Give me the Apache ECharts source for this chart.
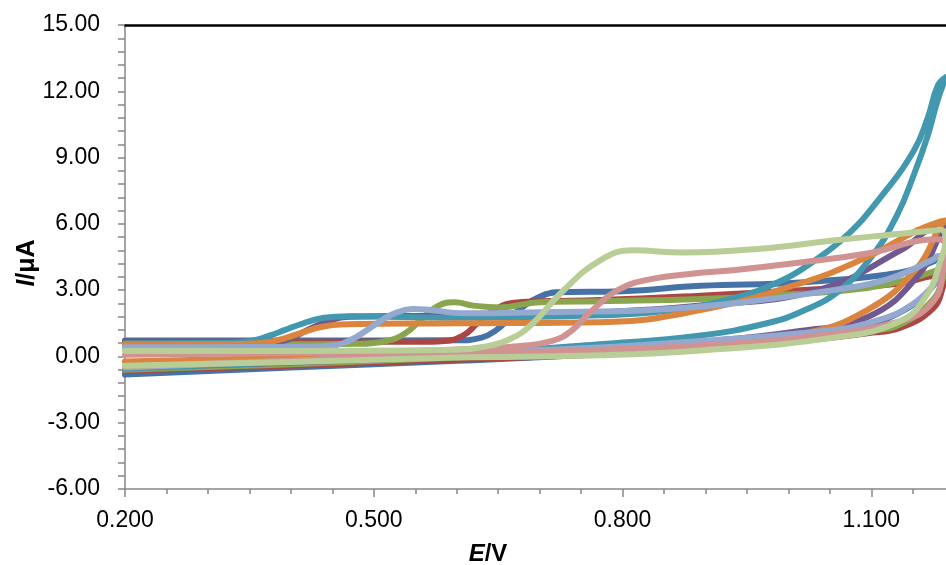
<!DOCTYPE html>
<html><head><meta charset="utf-8">
<script src="https://cdn.jsdelivr.net/npm/echarts@6/dist/echarts.min.js"></script>
<style>html,body{margin:0;padding:0;background:#fff}#c{width:946px;height:565px}</style>
</head><body><div id="c"></div>
<script>
// Tick labels / tick positions
const xLabelValues = [0.2, 0.5, 0.8, 1.1];
const xMinorTickValues = [0.2,0.25,0.3,0.35,0.4,0.45,0.5,0.55,0.6,0.65,0.7,0.75,0.8,0.85,0.9,0.95,1.0,1.05,1.1,1.15];
const yTickLabels = [-6, -3, 0, 3, 6, 9, 12, 15];

// Series (E / V, I / µA) – each is a closed CV loop
const seriesNames = ['S1','S2','S3','S4','S5','S6','S7','S8','S9'];
const blue = [[0.2,-0.82],[0.4,-0.5],[0.6,-0.2],[0.773,0.1],[0.894,0.4],[1.014,0.85],[1.095,1.45],[1.135,2.0],[1.17,3.0],[1.186,3.9],[1.19,4.4],[1.182,4.45],[1.175,4.3],[1.135,3.8],[1.014,3.35],[0.894,3.2],[0.8,2.95],[0.72,2.9],[0.7,2.7],[0.68,2.25],[0.664,1.75],[0.648,1.2],[0.63,0.85],[0.6,0.73],[0.4,0.72],[0.2,0.72]];
const red = [[0.2,-0.65],[0.4,-0.42],[0.6,-0.15],[0.773,0.1],[0.894,0.35],[1.014,0.7],[1.095,1.05],[1.135,1.3],[1.175,2.2],[1.187,3.2],[1.19,3.6],[1.18,3.65],[1.135,3.3],[1.014,3.0],[0.894,2.75],[0.773,2.55],[0.7,2.5],[0.667,2.42],[0.645,2.1],[0.625,1.5],[0.608,0.95],[0.585,0.7],[0.55,0.66],[0.4,0.66],[0.2,0.66]];
const green = [[0.2,-0.6],[0.4,-0.35],[0.6,-0.05],[0.773,0.2],[0.894,0.45],[1.014,0.8],[1.095,1.15],[1.135,1.45],[1.175,2.6],[1.187,3.6],[1.19,3.95],[1.18,3.9],[1.155,3.6],[1.095,3.1],[0.974,2.75],[0.894,2.6],[0.773,2.5],[0.7,2.45],[0.652,2.22],[0.62,2.3],[0.598,2.45],[0.578,2.3],[0.558,1.7],[0.538,1.05],[0.515,0.7],[0.48,0.57],[0.4,0.55],[0.2,0.55]];
const purple = [[0.2,-0.5],[0.4,-0.28],[0.6,0.0],[0.773,0.3],[0.894,0.65],[1.014,1.15],[1.095,1.77],[1.155,3.6],[1.187,5.85],[1.19,6.0],[1.18,5.95],[1.135,4.8],[1.035,3.0],[0.894,2.3],[0.773,2.0],[0.6,1.85],[0.47,1.8],[0.445,1.6],[0.42,1.2],[0.398,0.78],[0.375,0.6],[0.33,0.55],[0.2,0.55]];
const teal = [[0.2,-0.55],[0.4,-0.25],[0.6,0.1],[0.773,0.55],[0.894,0.95],[0.974,1.5],[1.02,2.1],[1.062,3.0],[1.102,4.6],[1.131,6.4],[1.151,8.2],[1.168,10.0],[1.18,11.6],[1.19,12.65],[1.18,12.25],[1.168,10.8],[1.151,9.3],[1.111,7.2],[1.071,5.5],[1.03,4.3],[0.99,3.4],[0.93,2.6],[0.85,2.05],[0.773,1.86],[0.6,1.75],[0.47,1.82],[0.44,1.75],[0.415,1.5],[0.393,1.2],[0.375,0.95],[0.355,0.72],[0.33,0.62],[0.2,0.6]];
const orange = [[0.2,-0.23],[0.4,-0.05],[0.6,0.15],[0.773,0.35],[0.894,0.6],[1.014,1.0],[1.095,2.1],[1.155,4.0],[1.183,5.9],[1.19,6.15],[1.183,6.1],[1.155,5.7],[1.095,4.5],[1.014,3.3],[0.894,2.1],[0.773,1.55],[0.6,1.5],[0.46,1.45],[0.435,1.32],[0.415,1.1],[0.395,0.85],[0.372,0.64],[0.34,0.56],[0.2,0.55]];
const lightBlue = [[0.2,-0.5],[0.4,-0.2],[0.6,0.15],[0.773,0.4],[0.894,0.7],[1.014,1.05],[1.095,1.5],[1.155,2.5],[1.187,4.0],[1.19,4.5],[1.18,4.55],[1.175,4.4],[1.12,3.5],[1.054,3.0],[0.933,2.4],[0.833,2.1],[0.7,2.0],[0.612,1.95],[0.547,2.15],[0.525,1.95],[0.508,1.6],[0.492,1.2],[0.475,0.8],[0.455,0.52],[0.42,0.44],[0.3,0.42],[0.2,0.42]];
const pink = [[0.2,-0.45],[0.4,-0.2],[0.6,0.1],[0.773,0.3],[0.894,0.5],[1.014,0.85],[1.135,1.6],[1.175,2.5],[1.187,4.0],[1.19,5.0],[1.18,5.3],[1.095,4.66],[1.014,4.25],[0.933,3.9],[0.886,3.75],[0.834,3.5],[0.794,3.0],[0.761,2.0],[0.738,1.15],[0.715,0.7],[0.68,0.48],[0.62,0.35],[0.5,0.2],[0.2,0.08]];
const lightGreen = [[0.2,-0.42],[0.4,-0.25],[0.6,-0.05],[0.773,0.05],[0.894,0.27],[1.054,0.85],[1.135,1.6],[1.168,2.85],[1.183,4.3],[1.19,5.4],[1.183,5.75],[1.175,5.7],[1.135,5.55],[1.054,5.25],[0.974,4.9],[0.873,4.7],[0.813,4.8],[0.773,4.35],[0.725,2.85],[0.692,1.5],[0.665,0.8],[0.635,0.45],[0.6,0.3],[0.4,0.25],[0.2,0.25]];

const seriesData = [blue, red, green, purple, teal, orange, lightBlue, pink, lightGreen];
const seriesColors = ['#4572A7','#AA4643','#89A54E','#71588F','#4198AF','#DB843D','#93A9CF','#D19392','#B9CD96'];

const FONT = 'Liberation Sans';
const AXIS_GRAY = '#868686';
const chart = echarts.init(document.getElementById('c'), null, {renderer: 'canvas'});
chart.setOption({
  animation: false,
  backgroundColor: '#fff',
  grid: {left: 125, right: 0, top: 25, bottom: 76, containLabel: false, outerBoundsMode: 'none'},
  xAxis: [
    {
      type: 'value', min: 0.2, max: 1.19, position: 'bottom',
      axisLine: {show: true, onZero: false, lineStyle: {color: AXIS_GRAY, width: 1.5}},
      axisTick: {show: true, customValues: xMinorTickValues, length: 5, lineStyle: {color: AXIS_GRAY, width: 1.5}},
      axisLabel: {customValues: xLabelValues, formatter: v => v.toFixed(3), fontSize: 23, fontFamily: FONT, color: '#000', margin: 20},
      splitLine: {show: false},
      name: '{i|E}{n|/V}', nameLocation: 'middle', nameGap: 53, nameMoveOverlap: false,
      nameTextStyle: {padding: [0, 95, 0, 0], rich: {
        i: {fontSize: 24, fontWeight: 'bold', fontStyle: 'italic', fontFamily: FONT, color: '#000'},
        n: {fontSize: 24, fontWeight: 'bold', fontFamily: FONT, color: '#000'}
      }}
    },
    {
      type: 'value', min: 0.2, max: 1.19, position: 'bottom',
      axisLine: {show: false, onZero: false},
      axisTick: {show: true, customValues: xLabelValues, length: 8, lineStyle: {color: AXIS_GRAY, width: 1.5}},
      axisLabel: {show: false},
      splitLine: {show: false}
    },
    {
      type: 'value', min: 0.2, max: 1.19, position: 'top',
      axisLine: {show: true, onZero: false, lineStyle: {color: '#000', width: 2.5}},
      axisTick: {show: false}, axisLabel: {show: false}, splitLine: {show: false}
    }
  ],
  yAxis: {
    type: 'value', min: -6, max: 15, interval: 3,
    axisLine: {show: true, onZero: false, lineStyle: {color: AXIS_GRAY, width: 1.5}},
    axisTick: {show: true, length: 7, lineStyle: {color: AXIS_GRAY, width: 1.5}},
    minorTick: {show: true, splitNumber: 5, length: 7, lineStyle: {color: AXIS_GRAY, width: 1.5}},
    axisLabel: {formatter: v => (yTickLabels.indexOf(Math.round(v)) >= 0 ? v.toFixed(2) : ''), fontSize: 23, fontFamily: FONT, color: '#000', margin: 25},
    splitLine: {show: false},
    name: '{i|I}{n|/μA}', nameLocation: 'middle', nameGap: 85, nameRotate: 90, nameMoveOverlap: false,
    nameTextStyle: {padding: [0, 12, 0, 0], rich: {
      i: {fontSize: 25, fontWeight: 'bold', fontStyle: 'italic', fontFamily: FONT, color: '#000'},
      n: {fontSize: 25, fontWeight: 'bold', fontFamily: FONT, color: '#000'}
    }}
  },
  series: seriesData.map((d, k) => ({
    name: seriesNames[k], type: 'line', xAxisIndex: 0, data: d,
    showSymbol: false, symbol: 'none', smooth: 0.45,
    lineStyle: {color: seriesColors[k], width: 6, cap: 'round', join: 'round'},
    itemStyle: {color: seriesColors[k]}
  }))
});
</script></body></html>
